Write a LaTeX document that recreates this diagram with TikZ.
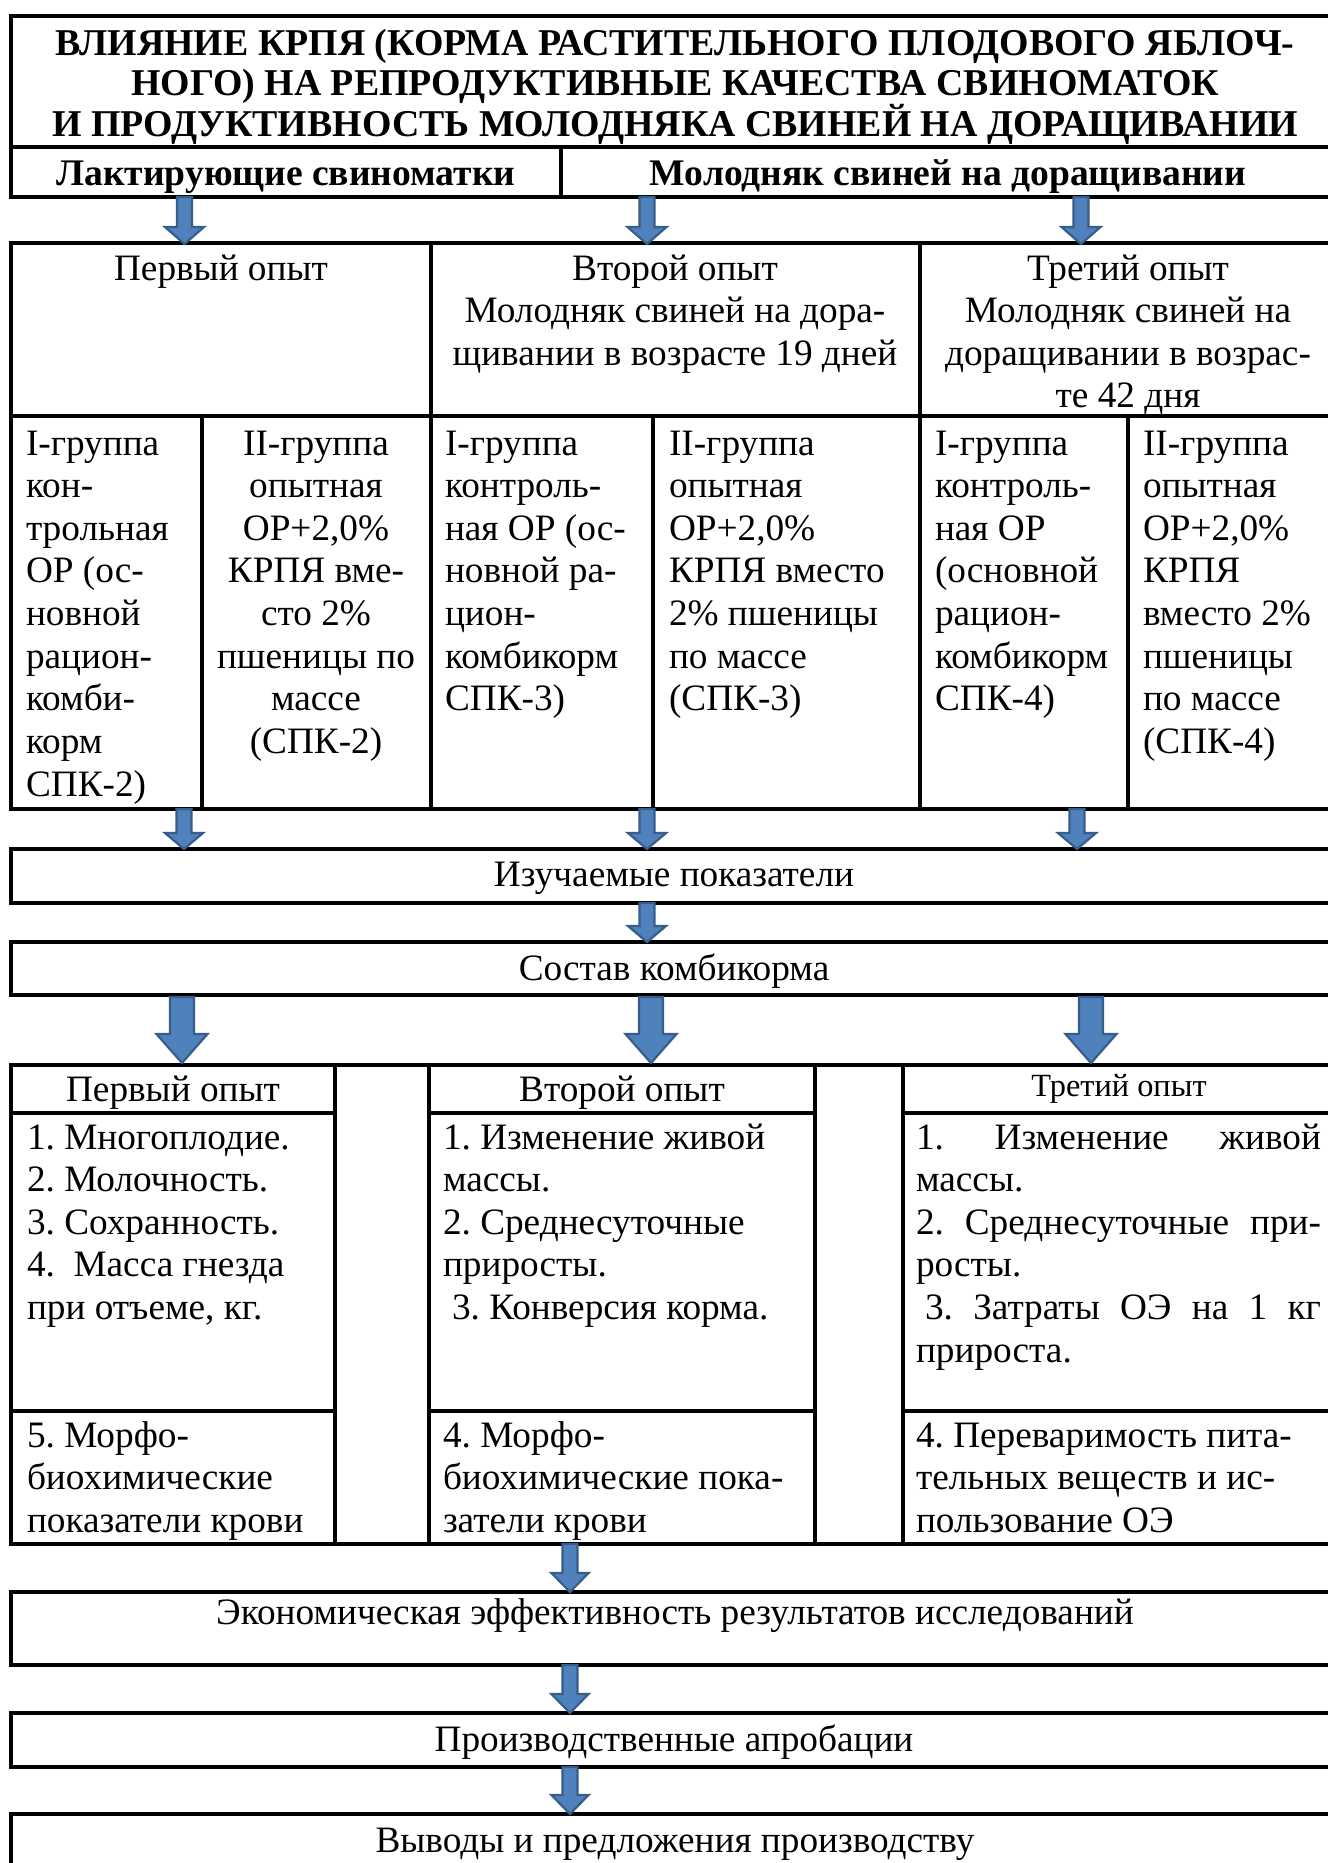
\documentclass[tikz,border=0pt]{standalone}
\usepackage{fontspec}
\setmainfont{Liberation Serif}
\definecolor{arrfill}{RGB}{79,129,189}
\definecolor{arrdraw}{RGB}{56,93,138}
\newcommand\titlefont{\bfseries\fontsize{38}{39.8}\selectfont}
\newcommand\subfont{\bfseries\fontsize{37.7}{42}\selectfont}
\newcommand\bodyfont{\fontsize{37.4}{42.8}\selectfont}
\newcommand\smallfont{\fontsize{32.5}{37}\selectfont}
\newcommand\blockarrow[6]{%
  \filldraw[arr] ({#1-#4},#2) -- ({#1+#4},#2) -- ({#1+#4},{#3-#6}) -- ({#1+#5},{#3-#6})
   -- (#1,#3) -- ({#1-#5},{#3-#6}) -- ({#1-#4},{#3-#6}) -- cycle;}
\frenchspacing
\begin{document}
\frenchspacing
\begin{tikzpicture}[x=1bp,y=-1bp,
  box/.style={draw=black,line width=3.2bp},
  txt/.style={inner sep=0pt,outer sep=0pt},
  arr/.style={fill=arrfill,draw=arrdraw,line width=2.2bp,line join=miter}]
\useasboundingbox (0,0) rectangle (1328,1863);
\clip (0,0) rectangle (1328,1863);
\fill[white] (0,0) rectangle (1328,1863);

% ---------- boxes ----------
\draw[box] (11,16) rectangle (1336,147);
\draw[box] (11,147) rectangle (1336,197);
\draw[box] (561,147) -- (561,197);

\draw[box] (11,243) rectangle (1336,809);
\draw[box] (11,416) -- (1336,416);
\draw[box] (431,243) -- (431,809);
\draw[box] (920,243) -- (920,809);
\draw[box] (202,416) -- (202,809);
\draw[box] (653,416) -- (653,809);
\draw[box] (1128,416) -- (1128,809);

\draw[box] (11,849) rectangle (1336,903);
\draw[box] (11,942) rectangle (1336,995);

\draw[box] (11,1065) rectangle (1336,1544);
\foreach \xx in {335,429,815,903} \draw[box] (\xx,1065) -- (\xx,1544);
\foreach \yy in {1113,1411} {
  \draw[box] (11,\yy) -- (335,\yy);
  \draw[box] (429,\yy) -- (815,\yy);
  \draw[box] (903,\yy) -- (1336,\yy);
}

\draw[box] (11,1592) rectangle (1336,1665);
\draw[box] (11,1713) rectangle (1336,1767);
\draw[box] (11,1814) rectangle (1336,1900);

% ---------- texts ----------
\node[txt,anchor=base] (title) at (675,55.5) {\parbox[t]{1310bp}{\centering\titlefont
ВЛИЯНИЕ КРПЯ (КОРМА РАСТИТЕЛЬНОГО ПЛОДОВОГО ЯБЛОЧ-\\
НОГО) НА РЕПРОДУКТИВНЫЕ КАЧЕСТВА СВИНОМАТОК\\
И ПРОДУКТИВНОСТЬ МОЛОДНЯКА СВИНЕЙ НА ДОРАЩИВАНИИ}};

\node[txt,anchor=base] (sows) at (286,185) {\subfont Лактирующие свиноматки};
\node[txt,anchor=base] (young) at (948,185) {\subfont Молодняк свиней на доращивании};

\node[txt,anchor=base] (exp1) at (221,280) {\parbox[t]{400bp}{\centering\bodyfont Первый опыт}};
\node[txt,anchor=base] (exp2) at (675,280) {\parbox[t]{480bp}{\centering\bodyfont Второй опыт\\
Молодняк свиней на дора-\\щивании в возрасте 19 дней}};
\node[txt,anchor=base] (exp3) at (1128,280) {\parbox[t]{410bp}{\centering\bodyfont Третий опыт\\
Молодняк свиней на\\доращивании в возрас-\\те 42 дня}};

\node[txt,anchor=base west] (g1) at (26,455) {\parbox[t]{180bp}{\raggedright\bodyfont
I-группа\\кон-\\трольная\\ОР (ос-\\новной\\рацион-\\комби-\\корм\\СПК-2)}};
\node[txt,anchor=base] (g2) at (316,455) {\parbox[t]{228bp}{\centering\bodyfont
II-группа\\опытная\\ОР+2,0\%\\КРПЯ вме-\\сто 2\%\\пшеницы по\\массе\\(СПК-2)}};
\node[txt,anchor=base west] (g3) at (445,455) {\parbox[t]{210bp}{\raggedright\bodyfont
I-группа\\контроль-\\ная ОР (ос-\\новной ра-\\цион-\\комбикорм\\СПК-3)}};
\node[txt,anchor=base west] (g4) at (669,455) {\parbox[t]{250bp}{\raggedright\bodyfont
II-группа\\опытная\\ОР+2,0\%\\КРПЯ вместо\\2\% пшеницы\\по массе\\(СПК-3)}};
\node[txt,anchor=base west] (g5) at (935,455) {\parbox[t]{200bp}{\raggedright\bodyfont
I-группа\\контроль-\\ная ОР\\(основной\\рацион-\\комбикорм\\СПК-4)}};
\node[txt,anchor=base west] (g6) at (1143,455) {\parbox[t]{200bp}{\raggedright\bodyfont
II-группа\\опытная\\ОР+2,0\%\\КРПЯ\\вместо 2\%\\пшеницы\\по массе\\(СПК-4)}};

\node[txt,anchor=base] (studied) at (674,886) {\bodyfont Изучаемые показатели};
\node[txt,anchor=base] (feed) at (674,980) {\bodyfont Состав комбикорма};

\node[txt,anchor=base] (l1h) at (173,1101) {\bodyfont Первый опыт};
\node[txt,anchor=base] (l2h) at (622,1101) {\bodyfont Второй опыт};
\node[txt,anchor=base] (l3h) at (1119,1096) {\smallfont Третий опыт};

\node[txt,anchor=base west] (l1a) at (27,1149) {\parbox[t]{300bp}{\raggedright\bodyfont
1. Многоплодие.\\2. Молочность.\\3. Сохранность.\\4.\ \ Масса гнезда\\при отъеме, кг.}};
\node[txt,anchor=base west] (l2a) at (443,1149) {\parbox[t]{370bp}{\raggedright\bodyfont
1. Изменение живой\\массы.\\2. Среднесуточные\\приросты.\\\hspace*{9bp}3. Конверсия корма.}};
\node[txt,anchor=base west] (l3a) at (916,1149) {\parbox[t]{410bp}{\raggedright\bodyfont
\makebox[405bp][s]{1. Изменение живой}\\массы.\\\makebox[405bp][s]{2. Среднесуточные при-}\\росты.\\
\hspace*{9bp}\makebox[396bp][s]{3. Затраты ОЭ на 1 кг}\\прироста.}};

\node[txt,anchor=base west] (l1b) at (27,1447) {\parbox[t]{305bp}{\raggedright\bodyfont
5. Морфо-\\биохимические\\показатели крови}};
\node[txt,anchor=base west] (l2b) at (443,1447) {\parbox[t]{370bp}{\raggedright\bodyfont
4. Морфо-\\биохимические пока-\\затели крови}};
\node[txt,anchor=base west] (l3b) at (916,1447) {\parbox[t]{410bp}{\raggedright\bodyfont
4. Переваримость пита-\\тельных веществ и ис-\\пользование ОЭ}};

\node[txt,anchor=base] (econ) at (675,1624) {\bodyfont Экономическая эффективность результатов исследований};
\node[txt,anchor=base] (prod) at (674,1751) {\bodyfont Производственные апробации};
\node[txt,anchor=base] (concl) at (675,1852) {\bodyfont Выводы и предложения производству};

% ---------- block arrows ----------
\blockarrow{184.5}{197}{244}{7.5}{19.5}{17}
\blockarrow{647}{197}{244}{7.5}{19.5}{17}
\blockarrow{1081}{197}{244}{7.5}{19.5}{17}

\blockarrow{184}{809}{849}{7.5}{19}{16}
\blockarrow{647}{809}{849}{7.5}{19}{16}
\blockarrow{1077}{809}{849}{7.5}{19}{16}

\blockarrow{647}{903}{942}{7.5}{19}{16}

\blockarrow{182}{997}{1063}{12}{25.5}{29}
\blockarrow{651}{997}{1063}{12}{25.5}{29}
\blockarrow{1091}{997}{1063}{12}{25.5}{29}

\blockarrow{570}{1544}{1592}{7.5}{18.5}{19}
\blockarrow{570}{1665}{1713}{7.5}{18.5}{19}
\blockarrow{570}{1767}{1814}{7.5}{18.5}{19}
\end{tikzpicture}
\end{document}
